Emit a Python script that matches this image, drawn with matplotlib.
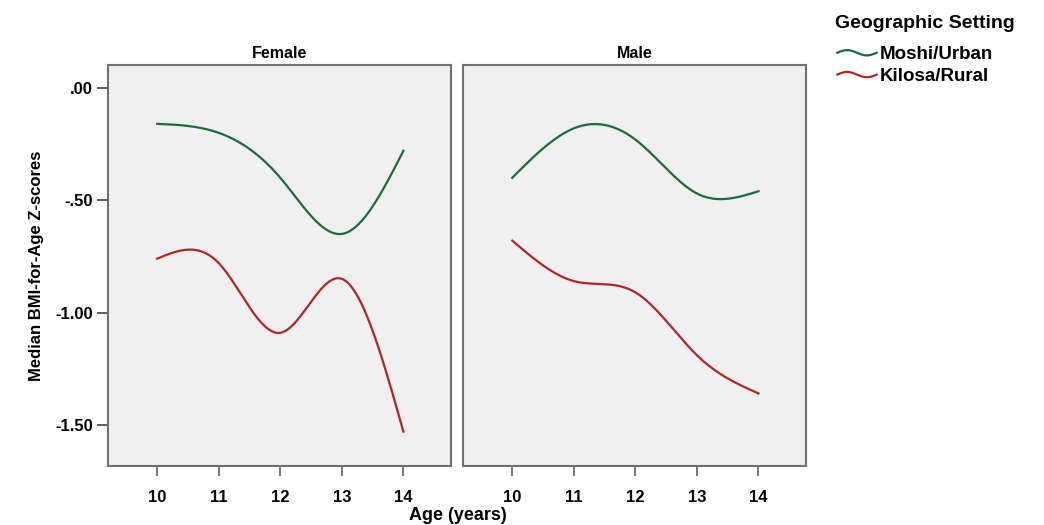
import matplotlib
matplotlib.use("Agg")
import matplotlib.pyplot as plt
from matplotlib.legend_handler import HandlerBase
from matplotlib.lines import Line2D
import numpy as np

plt.rcParams['font.family'] = ['Liberation Sans', 'DejaVu Sans']
plt.rcParams['font.weight'] = 'bold'

# Median BMI-for-age z-scores by age
ages = [10, 11, 12, 13, 14]
panels = ["Female", "Male"]
urban = {"Female": [-0.16, -0.20, -0.40, -0.65, -0.28],
         "Male": [-0.40, -0.18, -0.23, -0.47, -0.46]}
rural = {"Female": [-0.76, -0.78, -1.09, -0.85, -1.53],
         "Male": [-0.68, -0.86, -0.91, -1.19, -1.36]}
series = ["Moshi/Urban", "Kilosa/Rural"]
colors = {"Moshi/Urban": "#1d6b3c", "Kilosa/Rural": "#b2252b"}
yticks = [0.0, -0.5, -1.0, -1.5]
ytick_labels = [".00", "-.50", "-1.00", "-1.50"]


def natural_spline(x, y, n=200):
    # natural cubic spline through the points (smooth line like the original)
    x = np.asarray(x, float)
    y = np.asarray(y, float)
    k = len(x)
    h = np.diff(x)
    A = np.zeros((k, k))
    b = np.zeros(k)
    A[0, 0] = A[-1, -1] = 1
    for i in range(1, k - 1):
        A[i, i - 1] = h[i - 1]
        A[i, i] = 2 * (h[i - 1] + h[i])
        A[i, i + 1] = h[i]
        b[i] = 6 * ((y[i + 1] - y[i]) / h[i] - (y[i] - y[i - 1]) / h[i - 1])
    m = np.linalg.solve(A, b)
    xs = np.linspace(x[0], x[-1], n)
    idx = np.clip(np.searchsorted(x, xs) - 1, 0, k - 2)
    x0, x1 = x[idx], x[idx + 1]
    hh = x1 - x0
    t0, t1 = x1 - xs, xs - x0
    ys = (m[idx] * t0 ** 3 + m[idx + 1] * t1 ** 3) / (6 * hh) \
        + (y[idx] / hh - m[idx] * hh / 6) * t0 \
        + (y[idx + 1] / hh - m[idx + 1] * hh / 6) * t1
    return xs, ys


class WaveHandler(HandlerBase):
    def create_artists(self, legend, orig, xd, yd, width, height, fontsize, trans):
        t = np.linspace(0, 1, 30)
        xs = xd + t * width
        ys = yd + height / 2 - 0.2 * height * np.sin(np.pi * (2 * t - 1))
        ln = Line2D(xs, ys, color=orig.get_color(), lw=1.6)
        ln.set_transform(trans)
        return [ln]


fig = plt.figure(figsize=(10.44, 5.25), dpi=100)
fig.patch.set_facecolor("white")
lefts = [0.1034, 0.4435]
handles = []
for i, p in enumerate(panels):
    ax = fig.add_axes([lefts[i], 0.1124, 0.329, 0.7638])
    ax.set_facecolor("#f0f0f0")
    for s, data in zip(series, [urban, rural]):
        xs, ys = natural_spline(ages, data[p])
        ln, = ax.plot(xs, ys, color=colors[s], lw=1.6)
        if i == 0:
            handles.append(ln)
    ax.set_xlim(9.2, 14.78)
    ax.set_ylim(-1.683, 0.102)
    ax.set_xticks(ages)
    ax.set_xticklabels([str(a) for a in ages], fontsize=12, fontweight='bold')
    ax.set_title(p, fontsize=11.5, fontweight='bold', pad=5)
    for sp in ax.spines.values():
        sp.set_color("#707070")
        sp.set_linewidth(1.5)
    ax.tick_params(axis='x', direction='out', length=7, width=1.2,
                   color="#606060", pad=10)
    if i == 0:
        ax.set_yticks(yticks)
        ax.set_yticklabels(ytick_labels, fontsize=12, fontweight='bold')
        ax.tick_params(axis='y', direction='out', length=8, width=1.2,
                       color="#404040", pad=3)
        ax.set_ylabel("Median BMI-for-Age Z-scores", fontsize=12,
                      fontweight='bold', labelpad=8)
    else:
        ax.set_yticks([])

fig.text(0.4435 - 0.005, 0.019, "Age (years)", ha='center', va='center',
         fontsize=13, fontweight='bold')

fig.text(0.886, 0.956, "Geographic Setting", ha='center', va='center',
         fontsize=14, fontweight='bold')
leg = fig.legend(handles, series, loc='upper left',
                 bbox_to_anchor=(0.802, 0.912), frameon=False,
                 fontsize=13.5,
                 handler_map={Line2D: WaveHandler()}, handlelength=2.1,
                 handletextpad=0.15, labelspacing=0.25, borderaxespad=0.0,
                 borderpad=0.0)

fig.savefig("out.png", dpi=100)
